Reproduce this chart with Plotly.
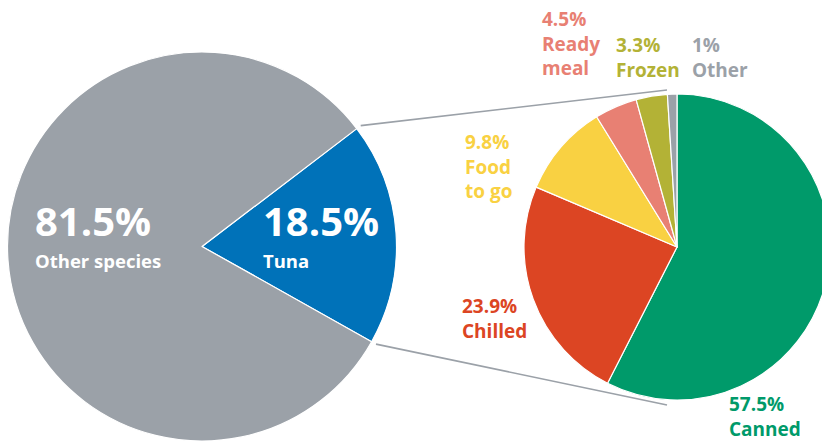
import math
import plotly.graph_objects as go

# ---- data ----
species_labels = ["Tuna", "Other species"]
species_values = [18.5, 81.5]
species_colors = ["#0072B9", "#9BA1A8"]

product_labels = ["Canned", "Chilled", "Food to go", "Ready meal", "Frozen", "Other"]
product_values = [57.5, 23.9, 9.8, 4.5, 3.3, 1.0]
product_colors = ["#009A6A", "#DC4523", "#F9D142", "#E88073", "#B3B236", "#9BA1A8"]

# ---- layout geometry (pixels) ----
W, H = 830, 441
L_CX, L_CY, L_R = 202.0, 246.5, 194.5
R_CX, R_CY, R_R = 677.0, 247.0, 153.0
TUNA_TOP_DEG = 37.3   # upper edge of the tuna wedge, degrees above horizontal


def px(x):
    return x / W


def py(y):
    return 1 - y / H


fig = go.Figure()

fig.add_trace(go.Pie(
    labels=species_labels, values=species_values, sort=False,
    direction="clockwise", rotation=90 - TUNA_TOP_DEG,
    marker=dict(colors=species_colors, line=dict(color="white", width=1.2)),
    textinfo="none", hoverinfo="label+value",
    domain=dict(x=[px(L_CX - L_R), px(L_CX + L_R)], y=[py(L_CY + L_R), py(L_CY - L_R)]),
    showlegend=False,
))

fig.add_trace(go.Pie(
    labels=product_labels, values=product_values, sort=False,
    direction="clockwise", rotation=0,
    marker=dict(colors=product_colors, line=dict(color="white", width=1.2)),
    textinfo="none", hoverinfo="label+value",
    domain=dict(x=[px(R_CX - R_R), px(R_CX + R_R)], y=[py(R_CY + R_R), py(R_CY - R_R)]),
    showlegend=False,
))

# connector lines from the tuna wedge edges to the product pie
tuna_span = species_values[0] / sum(species_values) * 360
a_top = math.radians(TUNA_TOP_DEG)
a_bot = math.radians(TUNA_TOP_DEG - tuna_span)
rs = L_R + 5
x0t, y0t = L_CX + rs * math.cos(a_top), L_CY - rs * math.sin(a_top)
x0b, y0b = L_CX + rs * math.cos(a_bot), L_CY - rs * math.sin(a_bot)
x1, y1t, y1b = R_CX - 10, R_CY - (R_R + 4), R_CY + (R_R + 5)
for (xa, ya, yb) in [(x0t, y0t, y1t), (x0b, y0b, y1b)]:
    fig.add_shape(type="line", xref="paper", yref="paper",
                  x0=px(xa), y0=py(ya), x1=px(x1), y1=py(yb),
                  line=dict(color="#9BA1A8", width=1.6))

FONT = "Open Sans"


def label(x, y, text, color, size):
    fig.add_annotation(xref="paper", yref="paper", x=px(x), y=py(y),
                       xanchor="left", yanchor="middle", align="left",
                       showarrow=False, text=text,
                       font=dict(family=FONT, size=size, color=color))


# inside the species pie
label(33, 221, "<b>%.1f%%</b>" % species_values[1], "white", 40)
label(33, 260, "<b>%s</b>" % species_labels[1], "white", 18.5)
label(261, 221, "<b>%.1f%%</b>" % species_values[0], "white", 40)
label(261, 260, "<b>%s</b>" % species_labels[0], "white", 18.5)

# product labels
label(463, 166, "<b>9.8%<br>Food<br>to go</b>", product_colors[2], 19)
label(460, 318, "<b>23.9%<br>Chilled</b>", product_colors[1], 19)
label(727, 416, "<b>57.5%<br>Canned</b>", product_colors[0], 19)
label(540, 44, "<b>4.5%<br>Ready<br>meal</b>", product_colors[3], 19)
label(614, 57, "<b>3.3%<br>Frozen</b>", product_colors[4], 19)
label(690, 57, "<b>1%<br>Other</b>", product_colors[5], 19)

fig.update_layout(
    width=W, height=H, margin=dict(l=0, r=0, t=0, b=0),
    paper_bgcolor="white", plot_bgcolor="white",
)

fig.write_html(
    "out.html",
    config={"displayModeBar": False},
    post_script="document.body.style.margin='0';document.body.style.overflow='hidden';"
                "document.documentElement.style.overflow='hidden';",
)
